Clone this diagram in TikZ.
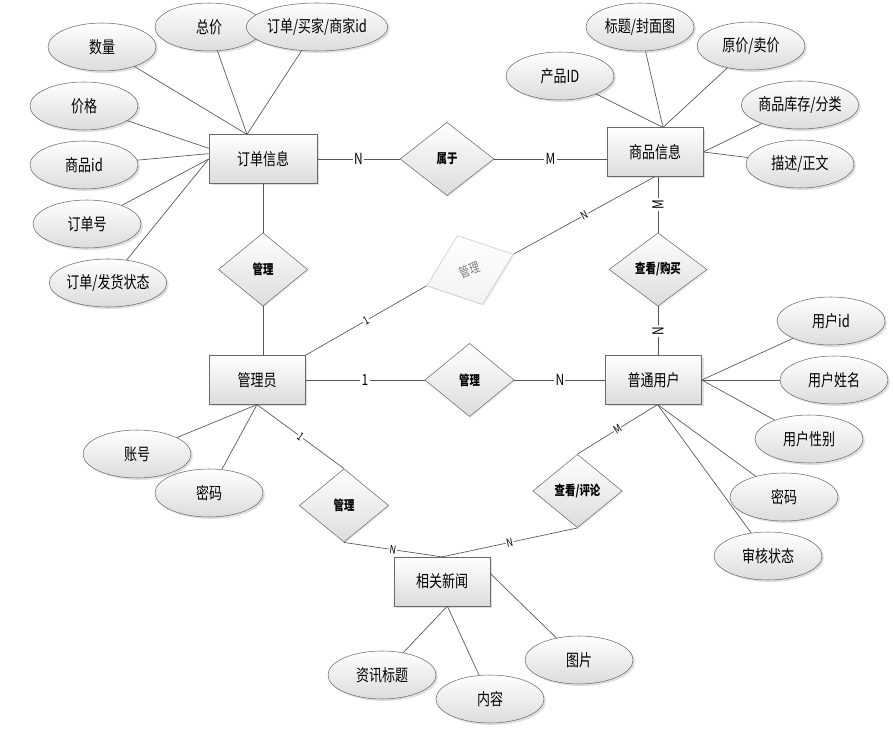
\documentclass[tikz,border=0pt]{standalone}
\usepackage{fontspec}
\setmainfont{Noto Sans CJK SC}[FakeStretch=0.78]
\usetikzlibrary{shapes.geometric, shadows}
\definecolor{linec}{RGB}{85,85,85}
\definecolor{framec}{RGB}{105,105,105}
\definecolor{shadec}{RGB}{220,220,220}
\newcommand{\bigtxt}{\fontsize{12.5}{14}\selectfont}
\newcommand{\reltxt}{\fontsize{10}{12}\selectfont\bfseries}

\begin{document}
\begin{tikzpicture}[x=0.75pt, y=-0.75pt,
    entity/.style={rectangle, draw=framec, top color=white, bottom color=shadec, minimum width=72pt, minimum height=36.5pt, inner sep=0pt, font=\bigtxt, drop shadow={opacity=0.25, shadow xshift=1.5pt, shadow yshift=-1.5pt}},
    attr/.style={ellipse, draw=framec, top color=white, bottom color=shadec, minimum width=81pt, minimum height=36pt, inner sep=0pt, font=\bigtxt, drop shadow={opacity=0.25, shadow xshift=1.5pt, shadow yshift=-1.5pt}},
    rel/.style={diamond, draw=framec, top color=white, bottom color=shadec, minimum width=67pt, minimum height=55pt, inner sep=0pt, font=\reltxt, drop shadow={opacity=0.15, shadow xshift=1pt, shadow yshift=-1pt}},
    link/.style={draw=linec, line width=0.5pt},
    card/.style={fill=white, inner sep=1pt, font=\fontsize{11.5}{13}\selectfont},
    scard/.style={fill=white, inner sep=0.5pt, sloped, font=\fontsize{8.5}{10}\selectfont}]
    \useasboundingbox (0,0) rectangle (893,737);
    % Define entities
    \node[entity, minimum width=81pt] (order) at (263,159) {订单信息};
    \node[entity] (goods) at (655,152) {商品信息};
    \node[entity] (admin) at (257,380) {管理员};
    \node[entity] (user) at (653.5,380) {普通用户};
    \node[entity] (news) at (442,581.5) {相关新闻};
    % relations
    \node[rel, minimum width=70.5pt] (belong) at (447,159) {属于};
    \node[rel] (mg1) at (263,269.5) {管理};
    \node[rel, minimum width=69pt, rotate=20, draw=gray!45, bottom color=gray!10, text=gray, font=\fontsize{10}{12}\selectfont] (mgr) at (470,270) {管理};
    \node[rel, minimum width=73.5pt] (look) at (658,269.5) {查看/购买};
    \node[rel] (mg2) at (469.5,380) {管理};
    \node[rel] (mg3) at (344,505.5) {管理};
    \node[rel] (comment) at (577.5,491) {查看/评论};
    % attributes of 订单信息
    \node[attr] (qty) at (102,47) {数量};
    \node[attr] (total) at (209,27) {总价};
    \node[attr] (ids) at (317,27) {订单/买家/商家id};
    \node[attr] (price) at (84,106) {价格};
    \node[attr] (gid) at (84,165) {商品id};
    \node[attr] (ono) at (87,224) {订单号};
    \node[attr] (ostate) at (108,283) {订单/发货状态};
    % attributes of 商品信息
    \node[attr] (pid) at (560,76) {产品ID};
    \node[attr] (title) at (640,27) {标题/封面图};
    \node[attr] (cost) at (751,46) {原价/卖价};
    \node[attr] (stock) at (800,105) {商品库存/分类};
    \node[attr] (desc) at (800,164) {描述/正文};
    % attributes of 普通用户
    \node[attr] (uid) at (831,321) {用户id};
    \node[attr] (uname) at (834,380) {用户姓名};
    \node[attr] (usex) at (809,439) {用户性别};
    \node[attr] (upw) at (784,497) {密码};
    \node[attr] (ucheck) at (768,556) {审核状态};
    % attributes of 管理员
    \node[attr] (acc) at (137,454) {账号};
    \node[attr] (apw) at (209,493) {密码};
    % attributes of 相关新闻
    \node[attr] (ntitle) at (382,675) {资讯标题};
    \node[attr] (ntext) at (490,699) {内容};
    \node[attr] (npic) at (579,660) {图片};
    % meeting points on the boxes
    \coordinate (orderT) at ([xshift=-12pt]order.north);
    \coordinate (orderL1) at ([yshift=8pt]order.west);
    \coordinate (orderL2) at ([yshift=4pt]order.west);
    \coordinate (goodsT) at ([xshift=6pt]goods.north);
    \coordinate (userB) at ([xshift=3pt]user.south);
    \coordinate (newsB) at ([xshift=4pt]news.south);
    \coordinate (newsR) at ([yshift=6pt]news.east);
    % attribute lines
    \draw[link] (qty) -- (orderT);
    \draw[link] (total) -- (orderT);
    \draw[link] (ids) -- (orderT);
    \draw[link] (price) -- (orderL1);
    \draw[link] (gid) -- (orderL2);
    \draw[link] (ono) -- (order.west);
    \draw[link] (ostate) -- (order.west);
    \draw[link] (pid) -- (goodsT);
    \draw[link] (title) -- (goodsT);
    \draw[link] (cost) -- (goodsT);
    \draw[link] (stock) -- (goods.east);
    \draw[link] (desc) -- (goods.east);
    \draw[link] (uid) -- (user.east);
    \draw[link] (uname) -- (user.east);
    \draw[link] (usex) -- (user.east);
    \draw[link] (upw) -- (userB);
    \draw[link] (ucheck) -- (userB);
    \draw[link] (acc) -- (admin.south);
    \draw[link] (apw) -- (admin.south);
    \draw[link] (ntitle) -- (newsB);
    \draw[link] (ntext) -- (newsB);
    \draw[link] (npic) -- (newsR);
    % relation lines
    \draw[link] (order.east) -- (belong.west) node[midway, card]{N};
    \draw[link] (belong.east) -- (belong.east -| goods.west) node[midway, card]{M};
    \draw[link] (order.south) -- (mg1.north);
    \draw[link] (mg1.south) -- (mg1.south |- admin.north);
    \draw[link] (admin.north east) -- (mgr.west) node[midway, scard]{1};
    \draw[link] (mgr.east) -- (goods.south) node[midway, scard]{N};
    \draw[link] (look.north) -- (look.north |- goods.south) node[midway, card, rotate=90]{M};
    \draw[link] (user.north -| look.south) -- (look.south) node[midway, card, rotate=90]{N};
    \draw[link] (admin.east) -- (mg2.west) node[midway, card]{1};
    \draw[link] (mg2.east) -- (user.west) node[midway, card]{N};
    \draw[link] (admin.south) -- (mg3.north) node[midway, scard]{1};
    \draw[link] (mg3.south) -- (news.north) node[midway, scard]{N};
    \draw[link] (userB) -- (comment.north) node[midway, scard]{M};
    \draw[link] (comment.south) -- (news.north) node[midway, scard]{N};
\end{tikzpicture}
\end{document}
